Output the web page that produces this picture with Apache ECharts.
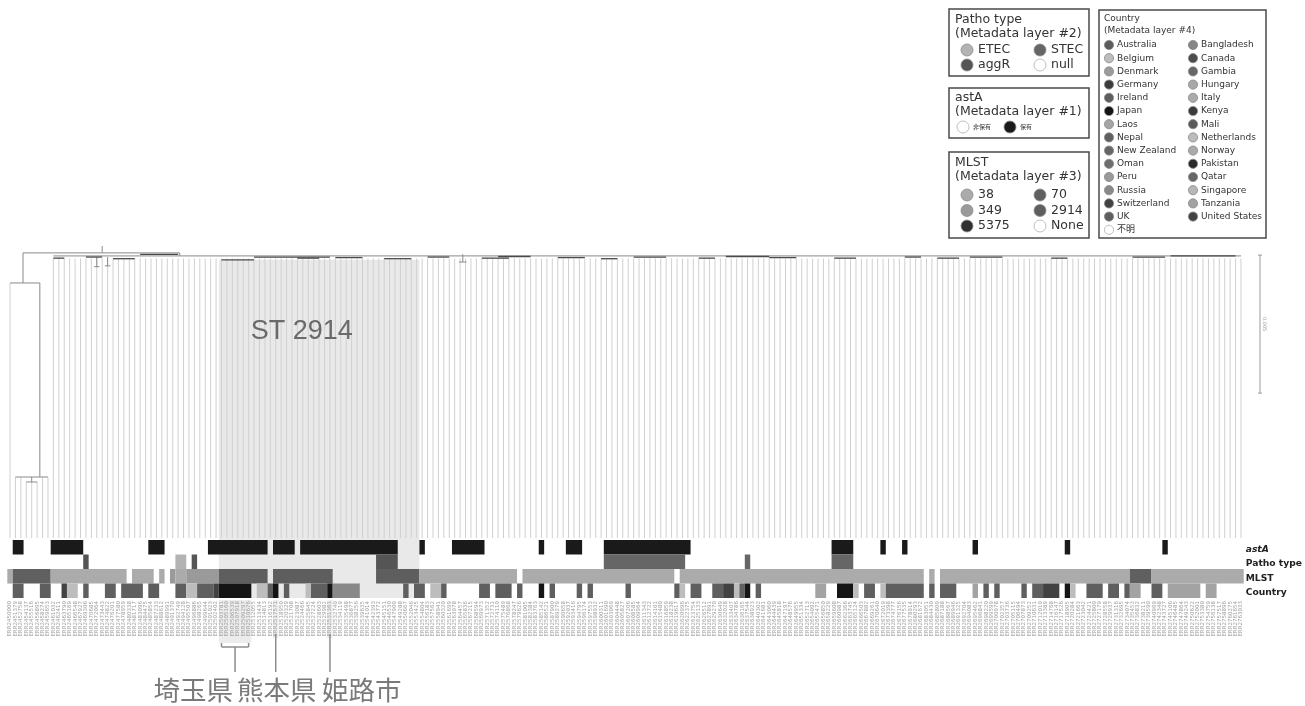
<!DOCTYPE html>
<html><head><meta charset="utf-8">
<script src="https://cdn.jsdelivr.net/npm/echarts@6/dist/echarts.min.js"></script>
<style>html,body{margin:0;padding:0;background:#fff}#c{width:1305px;height:706px}</style>
</head><body><div id="c"></div>
<script>
// ---------------- DATA ----------------
const N_LEAVES = 228;
const leafNames = Array.from({length: N_LEAVES}, (_, i) => 'ERR' + String(2450000 + i * 1379));
const stripRows = ['astA', 'Patho type', 'MLST', 'Country'];

// astA present (保有) leaf ranges
const astAPositive = [[1,2],[8,13],[26,28],[37,47],[49,52],[54,71],[76,76],[82,87],[98,98],[103,105],[110,125],[152,155],[161,161],[165,165],[178,178],[195,195],[213,213]];
// Patho type ranges
const pathoRuns = [[14,14,'aggR'],[31,32,'ETEC'],[34,34,'aggR'],[68,71,'aggR'],[110,124,'STEC'],[136,136,'STEC'],[152,155,'STEC']];
// MLST ranges
const mlstRuns = [[0,0,'38'],[1,7,'70'],[8,21,'38'],[23,26,'38'],[28,28,'38'],[30,30,'349'],[31,32,'38'],[33,38,'349'],[39,47,'2914'],[49,59,'2914'],[68,75,'2914'],[76,93,'38'],[95,122,'38'],[124,168,'38'],[170,170,'38'],[172,206,'38'],[207,210,'70'],[211,227,'38']];
// Country ranges
const countryRuns = [[1,2,'UK'],[6,7,'Ireland'],[10,10,'Switzerland'],[11,12,'Belgium'],[14,14,'UK'],[18,19,'Nepal'],[21,24,'UK'],[26,27,'Ireland'],[31,32,'UK'],[33,34,'Belgium'],[35,37,'UK'],[38,38,'Switzerland'],[39,44,'Japan'],[46,47,'Belgium'],[48,48,'UK'],[49,49,'Japan'],[51,51,'UK'],[55,55,'Belgium'],[56,58,'UK'],[59,59,'Japan'],[60,64,'Russia'],[73,73,'UK'],[75,76,'UK'],[78,79,'Belgium'],[80,80,'UK'],[87,88,'UK'],[90,92,'Ireland'],[94,94,'UK'],[98,98,'Japan'],[100,100,'UK'],[105,105,'UK'],[107,107,'UK'],[114,114,'UK'],[123,123,'UK'],[124,124,'Belgium'],[126,127,'UK'],[130,131,'UK'],[132,133,'Switzerland'],[134,134,'Belgium'],[135,135,'UK'],[136,136,'Japan'],[138,138,'UK'],[149,150,'Tanzania'],[153,155,'Japan'],[156,156,'Belgium'],[158,159,'UK'],[161,161,'Belgium'],[162,168,'UK'],[170,170,'UK'],[172,174,'UK'],[178,178,'Tanzania'],[180,180,'UK'],[182,182,'UK'],[187,187,'UK'],[189,190,'UK'],[191,193,'Switzerland'],[195,195,'Japan'],[196,196,'Belgium'],[199,201,'UK'],[203,204,'UK'],[206,206,'UK'],[207,208,'Tanzania'],[211,212,'UK'],[214,219,'Tanzania'],[221,222,'Tanzania']];

// Tree (x in leaf units, depth in substitutions/site)
const tipDepth = 0.01058;
const treeBranches = [
  [17.0, 0, 17.0, 0.00025],
  [2.4, 0.00025, 31.3, 0.00025],
  [2.4, 0.00025, 2.4, 0.00134],
  [0, 0.00134, 5.5, 0.00134],
  [5.5, 0.00134, 5.5, 0.00837],
  [1, 0.00837, 7, 0.00837],
  [4, 0.00837, 4, 0.00855],
  [3, 0.00855, 5, 0.00855],
  [31.3, 0.00025, 31.3, 0.00036],
  [8, 0.00036, 227, 0.00036],
  [16, 0.00040, 16, 0.00075], [15.5, 0.00075, 16.5, 0.00075],
  [18, 0.00040, 18, 0.00072], [17.5, 0.00072, 18.5, 0.00072],
  [83.5, 0.00030, 83.5, 0.00058], [82.8, 0.00058, 84.2, 0.00058]
];
const outgroupTips = {0: 0.00134, 1: 0.00837, 2: 0.00837, 3: 0.00855, 4: 0.00855, 5: 0.00855, 6: 0.00837, 7: 0.00837};
const mainTipTop = 0.00045;
const clusters = [[8,10,0.00044],[14,17,0.00040],[19,23,0.00046],[24,31,0.00030],[39,45,0.00050],[45,59,0.00040],[53,57,0.00044],[60,65,0.00042],[69,74,0.00046],[77,81,0.00040],[87,92,0.00044],[90,96,0.00038],[101,106,0.00042],[109,112,0.00046],[115,121,0.00040],[127,130,0.00044],[132,140,0.00038],[140,145,0.00042],[152,156,0.00044],[165,168,0.00040],[171,175,0.00044],[177,183,0.00040],[192,195,0.00044],[207,213,0.00040],[214,226,0.00036]];
const st2914Leaves = [39, 75];
const scaleBar = {start: 0.00033, length: 0.005, label: '0.005'};

// Legends
const pathoLegend = ['ETEC', 'STEC', 'aggR', 'null'];
const astALegend = ['非保有', '保有'];
const mlstLegend = ['38', '70', '349', '2914', '5375', 'None'];
const countryCol1 = ['Australia','Belgium','Denmark','Germany','Ireland','Japan','Laos','Nepal','New Zealand','Oman','Peru','Russia','Switzerland','UK','不明'];
const countryCol2 = ['Bangladesh','Canada','Gambia','Hungary','Italy','Kenya','Mali','Netherlands','Norway','Pakistan','Qatar','Singapore','Tanzania','United States'];
const annotations = [{name:'埼玉県', leaves:[39,44]}, {name:'熊本県', leaves:[49,49]}, {name:'姫路市', leaves:[59,59]}];

// ---------------- STYLE ----------------
const pathoColors = {ETEC:'#b3b3b3', STEC:'#666666', aggR:'#555555', 'null':'#ffffff'};
const astAColors = {'非保有':'#ffffff', '保有':'#1a1a1a'};
const mlstColors = {'38':'#ababab', '349':'#9a9a9a', '5375':'#303030', '70':'#606060', '2914':'#5e5e5e', 'None':'#ffffff'};
const countryColors = {Australia:'#5c5c5c',Bangladesh:'#858585',Belgium:'#bdbdbd',Canada:'#4c4c4c',Denmark:'#9c9c9c',Gambia:'#666666',Germany:'#3c3c3c',Hungary:'#a8a8a8',Ireland:'#5e5e5e',Italy:'#ababab',Japan:'#151515',Kenya:'#3c3c3c',Laos:'#a5a5a5',Mali:'#5a5a5a',Nepal:'#606060',Netherlands:'#bcbcbc','New Zealand':'#666666',Norway:'#aaaaaa',Oman:'#6e6e6e',Pakistan:'#2a2a2a',Peru:'#9a9a9a',Qatar:'#666666',Russia:'#888888',Singapore:'#b6b6b6',Switzerland:'#424242',Tanzania:'#a3a3a3',UK:'#5f5f5f','United States':'#424242','不明':'#ffffff'};

// ---------------- BUILD ----------------
const cells = [], cellColors = [];   // one rect per run: [startLeaf, endLeaf, row]
function addRuns(runs, row, colorOf) {
  runs.forEach(r => { cells.push([r[0], r[1], row]); cellColors.push(colorOf(r)); });
}
addRuns(astAPositive, 0, () => astAColors['保有']);
addRuns(pathoRuns, 1, r => pathoColors[r[2]]);
addRuns(mlstRuns, 2, r => mlstColors[r[2]]);
addRuns(countryRuns, 3, r => countryColors[r[2]]);

const edges = [];
for (let i = 0; i < N_LEAVES; i++) {
  const pd = outgroupTips[i] !== undefined ? outgroupTips[i] : mainTipTop;
  edges.push([i, pd, i, tipDepth, 1]);
}
treeBranches.forEach(e => edges.push([e[0], e[1], e[2], e[3], 0]));
clusters.forEach(c => edges.push([c[0], c[2], c[1], c[2], 2]));
const edgeStyle = {0: {stroke:'#8a8a8a', lineWidth:1}, 1: {stroke:'#d0d0d0', lineWidth:1}, 2: {stroke:'#4a4a4a', lineWidth:1.3}};

const chart = echarts.init(document.getElementById('c'));
const GL = 7.3, GR = 61.3;
chart.setOption({
  animation: false,
  backgroundColor: '#ffffff',
  grid: [
    {left: GL, right: GR, top: 246, height: 292, outerBoundsMode: 'none'},
    {left: GL, right: GR, top: 540, height: 58, outerBoundsMode: 'none'}
  ],
  xAxis: [
    {type:'value', gridIndex:0, min:-0.5, max:N_LEAVES-0.5, show:false},
    {type:'category', gridIndex:1, data:leafNames, boundaryGap:true,
     axisLine:{show:false}, axisTick:{show:false}, splitLine:{show:false},
     axisLabel:{interval:0, rotate:90, fontSize:5.5, color:'#a0a0a0', margin:3, fontFamily:'DejaVu Sans'}}
  ],
  yAxis: [
    {type:'value', gridIndex:0, min:0, max:tipDepth, inverse:true, show:false},
    {type:'category', gridIndex:1, data:stripRows, inverse:true, position:'right',
     axisLine:{show:false}, axisTick:{show:false}, splitLine:{show:false},
     axisLabel:{interval:0, margin:2, color:'#222', hideOverlap:false,
       formatter: v => v === 'astA' ? '{i|' + v + '}' : '{b|' + v + '}',
       rich:{i:{fontStyle:'italic', fontWeight:'bold', fontSize:9.2, fontFamily:'DejaVu Sans', color:'#222', padding:[4,0,0,0]},
             b:{fontWeight:'bold', fontSize:9.2, fontFamily:'DejaVu Sans', color:'#222', padding:[4,0,0,0]}}}}
  ],
  series: [
    {type:'custom', xAxisIndex:0, yAxisIndex:0, clip:false, silent:true, z:3,
     encode:{x:[0,2], y:[1,3]}, data: edges,
     renderItem: (params, api) => {
       const a = api.coord([api.value(0), api.value(1)]);
       const b = api.coord([api.value(2), api.value(3)]);
       const s = edgeStyle[api.value(4)];
       return {type:'line', shape:{x1:a[0], y1:a[1], x2:b[0], y2:b[1]}, style:{stroke:s.stroke, lineWidth:s.lineWidth}};
     }},
    {type:'custom', xAxisIndex:1, yAxisIndex:1, clip:false, silent:true, z:3,
     encode:{x:[0,1], y:2}, data: cells,
     renderItem: (params, api) => {
       const a = api.coord([api.value(0), api.value(2)]);
       const b = api.coord([api.value(1), api.value(2)]);
       const sz = api.size([1, 1]);
       return {type:'rect', shape:{x:a[0]-sz[0]/2, y:a[1]-sz[1]/2, width:b[0]-a[0]+sz[0], height:sz[1]},
               style:{fill: cellColors[params.dataIndex]}};
     }}
  ]
});

// ---------------- OVERLAYS (positions from the chart's scales) ----------------
const cx = i => chart.convertToPixel({xAxisIndex:1}, i);
const bw = cx(1) - cx(0);
const dy = d => chart.convertToPixel({yAxisIndex:0}, d);
const rowY = r => chart.convertToPixel({yAxisIndex:1}, r);
const rowH = rowY(1) - rowY(0);
const g = [];
const FONT = "'DejaVu Sans','Noto Sans CJK JP',sans-serif";
function txt(x, y, text, size, opts) {
  opts = opts || {};
  g.push({type:'text', x:x, y:y, z: opts.z || 10, rotation: opts.rotation || 0,
    style:{text:text, fill: opts.fill || '#333', font: (opts.weight || 'normal') + ' ' + size + 'px ' + (opts.family || FONT),
      align: opts.align || 'left', verticalAlign: 'middle', textAlign: opts.align || 'left', textVerticalAlign:'middle'}});
}
function circ(x, y, r, fill) {
  g.push({type:'circle', z:10, shape:{cx:x, cy:y, r:r}, style:{fill:fill, stroke: fill === '#ffffff' ? '#b0b0b0' : '#8a8a8a', lineWidth:0.8}});
}
function box(x, y, w, h) {
  g.push({type:'rect', z:10, shape:{x:x, y:y, width:w, height:h}, style:{fill:'none', stroke:'#4a4a4a', lineWidth:1.5}});
}
function line(x1, y1, x2, y2, stroke, lw, z) {
  g.push({type:'line', z: z || 10, shape:{x1:x1, y1:y1, x2:x2, y2:y2}, style:{stroke:stroke, lineWidth:lw}});
}

// ST 2914 shading
const stL = cx(st2914Leaves[0]) - bw/2, stR = cx(st2914Leaves[1]) + bw/2;
const stTop = dy(0.0005), stBot = rowY(3) + rowH/2;
g.push({type:'rect', z:-5, shape:{x:stL, y:stTop, width:stR-stL, height:stBot-stTop}, style:{fill:'#e9e9e9'}});
txt(stL + 32, dy(0.0031), 'ST 2914', 27, {fill:'#6a6a6a', family:"'Liberation Sans','Noto Sans',sans-serif"});

// highlighted labels + annotation brackets
const labTop = stBot + 2;
annotations.forEach((a, k) => {
  const l = cx(a.leaves[0]) - bw/2, r = cx(a.leaves[1]) + bw/2;
  g.push({type:'rect', z:-5, shape:{x:l, y:labTop, width:r-l, height: k === 0 ? 43 : 38}, style:{fill:'#ececec'}});
});
const brY = labTop + 47, stemEnd = labTop + 72;
const sa = annotations[0];
const saL = cx(sa.leaves[0]), saR = cx(sa.leaves[1]);
line(saL, brY - 4, saL, brY, '#8c8c8c', 1.5);
line(saR, brY - 4, saR, brY, '#8c8c8c', 1.5);
line(saL, brY, saR, brY, '#8c8c8c', 1.5);
line((saL + saR)/2, brY, (saL + saR)/2, stemEnd, '#8c8c8c', 1.5);
[1, 2].forEach(k => { const x = cx(annotations[k].leaves[0]); line(x, labTop + 34, x, stemEnd, '#8c8c8c', 1.5); });
const annFont = "'Noto Sans CJK JP',sans-serif";
txt((saL + saR)/2 - 2, labTop + 90, annotations[0].name, 26.5, {fill:'#7a7a7a', family:annFont, align:'right'});
txt((saL + saR)/2 + 2, labTop + 90, annotations[1].name, 26.5, {fill:'#7a7a7a', family:annFont});
txt((saL + saR)/2 + 87, labTop + 90, annotations[2].name, 26.5, {fill:'#7a7a7a', family:annFont});

// scale bar
const sbX = cx(N_LEAVES - 1) + 19;
const sbT = dy(scaleBar.start), sbB = dy(scaleBar.start + scaleBar.length);
line(sbX, sbT, sbX, sbB, '#9a9a9a', 1);
line(sbX - 2, sbT, sbX + 2, sbT, '#9a9a9a', 1);
line(sbX - 2, sbB, sbX + 2, sbB, '#9a9a9a', 1);
txt(sbX + 4, (sbT + sbB)/2, scaleBar.label, 5, {fill:'#999', rotation:-Math.PI/2, align:'center'});

// Legend: Patho type
const LF = 12.5;
box(949, 9, 140, 67);
txt(955, 20, 'Patho type', LF); txt(955, 34, '(Metadata layer #2)', LF);
pathoLegend.forEach((n, i) => { const x = i % 2 ? 1040 : 967, y = 50 + Math.floor(i/2) * 15; circ(x, y, 6, pathoColors[n]); txt(x + 11, y, n, LF); });
// Legend: astA
box(949, 88, 140, 50);
txt(955, 98, 'astA', LF); txt(955, 112, '(Metadata layer #1)', LF);
astALegend.forEach((n, i) => { const x = i ? 1010 : 963, y = 127; circ(x, y, 6, astAColors[n]); txt(x + 10, y, n, 6); });
// Legend: MLST
box(949, 152, 140, 86);
txt(955, 163, 'MLST', LF); txt(955, 177, '(Metadata layer #3)', LF);
mlstLegend.forEach((n, i) => { const x = i % 2 ? 1040 : 967, y = 195 + Math.floor(i/2) * 15.5; circ(x, y, 6, mlstColors[n]); txt(x + 11, y, n, LF); });
// Legend: Country
box(1099, 10, 167, 228);
txt(1104, 19, 'Country', 9); txt(1104, 31, '(Metadata layer #4)', 9);
countryCol1.forEach((n, i) => { const y = 45 + i * 13.2; circ(1109, y, 4.6, countryColors[n]); txt(1117, y, n, 9); });
countryCol2.forEach((n, i) => { const y = 45 + i * 13.2; circ(1193, y, 4.6, countryColors[n]); txt(1201, y, n, 9); });

chart.setOption({graphic: {elements: g}});
</script></body></html>
